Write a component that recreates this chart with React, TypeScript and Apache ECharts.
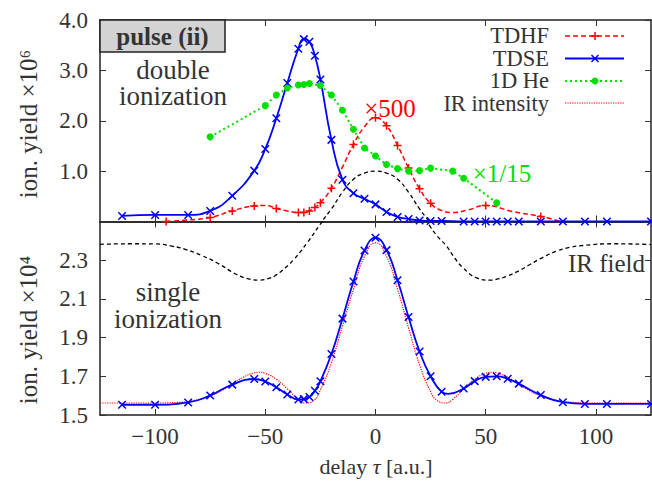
import React, { useEffect, useRef } from 'react';
import * as echarts from 'echarts';

// ---------- tick values ----------
const xTicks = [-100, -50, 0, 50, 100];
const yTicksTop = [0, 1, 2, 3, 4];
const yLabelsTop = [1, 2, 3, 4];
const yTicksBottom = [1.5, 1.7, 1.9, 2.1, 2.3, 2.5];
const yLabelsBottom = [1.5, 1.7, 1.9, 2.1, 2.3];

// ---------- double ionization (top panel, x10^6) ----------
const tdseX = [-115, -100, -85, -75, -65, -55, -50, -45, -40, -35, -32.5, -30, -27.5, -25, -20, -15, -10, -5, 0, 5, 10, 15, 20, 25, 30, 40, 45, 50, 55, 60, 65, 75, 85, 95, 105, 125];
const tdseDouble = [0.11, 0.13, 0.13, 0.21, 0.51, 1.01, 1.44, 2.05, 2.75, 3.43, 3.62, 3.57, 3.29, 2.82, 1.62, 0.83, 0.56, 0.45, 0.34, 0.19, 0.09, 0.05, 0.02, 0.01, 0.01, 0, 0, 0, 0, 0, 0, 0, 0, 0, 0, 0];

const tdhfX = [-95, -75, -65, -55, -45, -35, -32.5, -30, -27.5, -25, -20, -10, 0, 5, 10, 15, 20, 25, 50, 75];
const tdhfY = [0.0, 0.08, 0.21, 0.31, 0.26, 0.18, 0.18, 0.21, 0.28, 0.37, 0.66, 1.53, 2.06, 1.90, 1.51, 1.06, 0.65, 0.36, 0.32, 0.10];
// points read along the drawn TDHF curve between its markers
const tdhfCurve = [[-85, 0.03], [-50, 0.32], [-40, 0.21], [-15, 1.08], [-5, 1.88], [30, 0.22], [35, 0.18], [42, 0.23], [62, 0.2], [84, 0.0]];

const heX = [-75, -50, -45, -40, -35, -32.5, -30, -25, -20, -15, -10, -5, 0, 5, 10, 15, 20, 25, 35, 40, 55];
const heY = [1.68, 2.30, 2.51, 2.65, 2.71, 2.72, 2.74, 2.70, 2.51, 2.21, 1.83, 1.46, 1.30, 1.13, 1.05, 1.00, 1.01, 1.06, 1.00, 0.86, 0.37];

// IR field curve as seen in the top panel
const irTopX = [-31, -24.3, -20, -15, -10, -5, 0, 5, 10, 15, 20, 24.3, 31];
const irTopY = [-0.42, 0, 0.25, 0.58, 0.84, 0.96, 1.0, 0.96, 0.84, 0.58, 0.25, 0, -0.42];

// ---------- single ionization (bottom panel, x10^4) ----------
const tdseSingle = [1.553, 1.553, 1.565, 1.601, 1.657, 1.686, 1.673, 1.643, 1.606, 1.580, 1.582, 1.593, 1.625, 1.674, 1.815, 1.998, 2.190, 2.350, 2.416, 2.352, 2.196, 2.006, 1.828, 1.700, 1.620, 1.637, 1.675, 1.697, 1.700, 1.687, 1.662, 1.603, 1.566, 1.557, 1.557, 1.557];
const tdseSingleCurve = [[33, 1.609]];

const irIntX = [-125, -100, -90, -80, -75, -70, -65, -60, -55, -53, -50, -45, -40, -35, -32, -28, -25, -20, -15, -10, -5, 0, 5, 10, 15, 20, 25, 28, 32, 35, 40, 45, 50, 53, 55, 60, 65, 70, 75, 80, 90, 100, 125];
const irIntY = [1.562, 1.562, 1.565, 1.58, 1.598, 1.625, 1.66, 1.695, 1.718, 1.721, 1.715, 1.685, 1.635, 1.58, 1.562, 1.575, 1.63, 1.77, 1.96, 2.15, 2.32, 2.39, 2.32, 2.15, 1.95, 1.76, 1.62, 1.575, 1.562, 1.58, 1.635, 1.685, 1.715, 1.721, 1.718, 1.695, 1.66, 1.625, 1.598, 1.58, 1.565, 1.562, 1.562];

const irBotX = [-125, -110, -100, -92, -86, -79, -72, -63, -58, -53, -48, -45, -41, -37, -31, -25, -20, -15, 15, 20, 24.7, 28, 32.3, 36, 39.8, 45.9, 51.9, 55.5, 59.5, 65, 70.1, 76, 82.2, 88, 94.2, 107.8, 125];
const irBotY = [2.382, 2.385, 2.384, 2.372, 2.355, 2.325, 2.287, 2.226, 2.205, 2.197, 2.207, 2.224, 2.26, 2.304, 2.39, 2.487, 2.565, 2.65, 2.65, 2.565, 2.476, 2.425, 2.372, 2.31, 2.26, 2.209, 2.197, 2.203, 2.217, 2.245, 2.278, 2.315, 2.347, 2.366, 2.376, 2.385, 2.381];

const legendNames = ['TDHF', 'TDSE', '1D He', 'IR intensity'];

const RED = '#ff0000';
const BLUE = '#0000ff';
const GREEN = '#00e000';
const TXT = '#333333';
const SERIF = 'Liberation Serif';
const PLUS = 'path://M5,0L5,10M0,5L10,5';
const CROSS = 'path://M0,0L10,10M10,0L0,10';

function pairs(xs: number[], ys: number[]) {
  return xs.map((x, i) => [x, ys[i]]);
}
function withCurve(xs: number[], ys: number[], extra: number[][]) {
  const d: any[] = xs.map((x, i) => ({ value: [x, ys[i]] }));
  extra.forEach(([x, y]) => d.push({ value: [x, y], symbol: 'none' }));
  d.sort((a, b) => a.value[0] - b.value[0]);
  return d;
}
const fmtX = (v: number) => (v < 0 ? '\u2212' + Math.abs(v) : String(v));

export default function App() {
  const ref = useRef<HTMLDivElement>(null);
  useEffect(() => {
    document.body.style.margin = '0';
    if (!ref.current) return;
    const chart = echarts.init(ref.current, undefined, { renderer: 'svg' });
    const frame = { show: true, onZero: false, lineStyle: { color: '#222', width: 1.5 } };
    const tickStyle = { color: '#333', width: 1 };
    const labelStyle = { fontFamily: SERIF, fontSize: 23, color: TXT };
    const xAxisBase = (grid: number, pos: string, labels: boolean) => ({
      type: 'value', gridIndex: grid, position: pos, min: -125, max: 125,
      axisLine: frame,
      axisTick: { show: true, inside: true, length: 6, customValues: xTicks, lineStyle: tickStyle },
      axisLabel: labels ? { show: true, customValues: xTicks, formatter: fmtX, margin: 10, ...labelStyle } : { show: false },
      splitLine: { show: false },
    });
    const yAxisBase = (grid: number, pos: string, min: number, max: number, ticks: number[], labels: number[] | null) => ({
      type: 'value', gridIndex: grid, position: pos, min, max,
      axisLine: frame,
      axisTick: { show: true, inside: true, length: 6, customValues: ticks, lineStyle: tickStyle },
      axisLabel: labels ? { show: true, customValues: labels, formatter: (v: number) => v.toFixed(1), margin: 12, ...labelStyle } : { show: false },
      splitLine: { show: false },
    });

    const txt = (text: string, x: number, y: number, size: number, fill = TXT, align = 'center', extra: any = {}, weight = 'normal', lineHeight?: number) => ({
      type: 'text', x, y, z: 10, ...extra,
      style: { text, fontFamily: SERIF, fontSize: size, fontWeight: weight, fill, align, verticalAlign: 'middle', lineHeight },
    });

    const legendRows = [
      { y: 36, color: RED, dash: [5, 3], width: 1.5, mark: 'plus' },
      { y: 58.5, color: BLUE, dash: null, width: 1.8, mark: 'cross' },
      { y: 81, color: GREEN, dash: [2, 3], width: 2, mark: 'circle' },
      { y: 103, color: RED, dash: [1.2, 1.2], width: 1.2, mark: null },
    ];
    const graphics: any[] = [];
    graphics.push(txt(legendNames.join('\n'), 549, 69.5, 22.5, TXT, 'right', {}, 'normal', 22.4));
    legendRows.forEach((r) => {
      graphics.push({ type: 'line', z: 10, shape: { x1: 565, y1: r.y, x2: 624, y2: r.y }, style: { stroke: r.color, lineWidth: r.width, lineDash: r.dash || undefined } });
      const cx = 595, cy = r.y;
      if (r.mark === 'plus') {
        graphics.push({ type: 'line', z: 10, shape: { x1: cx - 4, y1: cy, x2: cx + 4, y2: cy }, style: { stroke: r.color, lineWidth: 1.5 } });
        graphics.push({ type: 'line', z: 10, shape: { x1: cx, y1: cy - 4, x2: cx, y2: cy + 4 }, style: { stroke: r.color, lineWidth: 1.5 } });
      } else if (r.mark === 'cross') {
        graphics.push({ type: 'line', z: 10, shape: { x1: cx - 3.5, y1: cy - 3.5, x2: cx + 3.5, y2: cy + 3.5 }, style: { stroke: r.color, lineWidth: 1.5 } });
        graphics.push({ type: 'line', z: 10, shape: { x1: cx - 3.5, y1: cy + 3.5, x2: cx + 3.5, y2: cy - 3.5 }, style: { stroke: r.color, lineWidth: 1.5 } });
      } else if (r.mark === 'circle') {
        graphics.push({ type: 'circle', z: 10, shape: { cx, cy, r: 3.5 }, style: { fill: r.color } });
      }
    });
    graphics.push({ type: 'rect', z: 10, shape: { x: 100, y: 20, width: 125, height: 32 }, style: { fill: '#d3d3d3', stroke: '#222', lineWidth: 1.5 } });
    graphics.push(txt('pulse (ii)', 162.5, 36.5, 25, TXT, 'center', { z: 11 }, 'bold'));
    graphics.push(txt('double\nionization', 173, 82.5, 27, TXT, 'center', {}, 'normal', 26));
    graphics.push(txt('single\nionization', 168, 305, 27, TXT, 'center', {}, 'normal', 27));
    graphics.push(txt('\u00d7500', 390, 108, 25, RED));
    graphics.push(txt('\u00d71/15', 502, 173, 25, GREEN));
    graphics.push(txt('IR field', 645, 263, 25, TXT, 'right'));
    graphics.push(txt('ion. yield \u00d710\u2076', 28, 124, 25, TXT, 'center', { rotation: Math.PI / 2 }));
    graphics.push(txt('ion. yield \u00d710\u2074', 28, 330, 25, TXT, 'center', { rotation: Math.PI / 2 }));
    graphics.push({
      type: 'text', x: 376, y: 466, z: 10,
      style: {
        text: '{a|delay }{b|\u03c4}{a| [a.u.]}', align: 'center', verticalAlign: 'middle', fontFamily: SERIF, fontSize: 22, fill: TXT,
        rich: { a: { fontFamily: SERIF, fontSize: 22, fill: TXT }, b: { fontFamily: SERIF, fontSize: 22, fontStyle: 'italic', fill: TXT } },
      },
    });

    chart.setOption({
      animation: false,
      backgroundColor: '#ffffff',
      textStyle: { fontFamily: SERIF },
      grid: [
        { left: 100, top: 20, width: 551, height: 201.5 },
        { left: 100, top: 221.5, width: 551, height: 193.5 },
      ],
      xAxis: [
        xAxisBase(0, 'bottom', false),
        xAxisBase(0, 'top', false),
        xAxisBase(1, 'bottom', true),
        xAxisBase(1, 'top', false),
      ],
      yAxis: [
        yAxisBase(0, 'left', 0, 4, yTicksTop, yLabelsTop),
        yAxisBase(0, 'right', 0, 4, yTicksTop, null),
        yAxisBase(1, 'left', 1.5, 2.5, yTicksBottom, yLabelsBottom),
        yAxisBase(1, 'right', 1.5, 2.5, yTicksBottom, null),
      ],
      series: [
        {
          name: 'IR field top', type: 'line', xAxisIndex: 0, yAxisIndex: 0, data: pairs(irTopX, irTopY),
          smooth: true, symbol: 'none', clip: true, lineStyle: { color: '#000', width: 1.3, type: [4, 3] }, z: 2,
        },
        {
          name: 'IR field', type: 'line', xAxisIndex: 2, yAxisIndex: 2, data: pairs(irBotX, irBotY),
          smooth: true, symbol: 'none', clip: true, lineStyle: { color: '#000', width: 1.3, type: [4, 3] }, z: 2,
        },
        {
          name: 'IR intensity', type: 'line', xAxisIndex: 2, yAxisIndex: 2, data: pairs(irIntX, irIntY),
          smooth: true, symbol: 'none', clip: true, lineStyle: { color: RED, width: 1.2, type: [1.2, 1.2] }, z: 3,
        },
        {
          name: 'TDHF', type: 'line', xAxisIndex: 0, yAxisIndex: 0, data: withCurve(tdhfX, tdhfY, tdhfCurve),
          smooth: true, symbol: PLUS, symbolSize: 8, clip: true,
          lineStyle: { color: RED, width: 1.5, type: [5, 3] },
          itemStyle: { color: RED, borderColor: RED, borderWidth: 1.5 }, z: 4,
        },
        {
          name: 'TDSE', type: 'line', xAxisIndex: 0, yAxisIndex: 0, data: pairs(tdseX, tdseDouble),
          smooth: true, symbol: CROSS, symbolSize: 7.5, clip: true,
          lineStyle: { color: BLUE, width: 1.8 },
          itemStyle: { color: BLUE, borderColor: BLUE, borderWidth: 1.5 }, z: 5,
        },
        {
          name: 'TDSE single', type: 'line', xAxisIndex: 2, yAxisIndex: 2, data: withCurve(tdseX, tdseSingle, tdseSingleCurve),
          smooth: true, symbol: CROSS, symbolSize: 7.5, clip: true,
          lineStyle: { color: BLUE, width: 1.8 },
          itemStyle: { color: BLUE, borderColor: BLUE, borderWidth: 1.5 }, z: 5,
        },
        {
          name: '1D He', type: 'line', xAxisIndex: 0, yAxisIndex: 0, data: pairs(heX, heY),
          smooth: false, symbol: 'circle', symbolSize: 7, clip: true,
          lineStyle: { color: GREEN, width: 2, type: [2, 3] },
          itemStyle: { color: GREEN }, z: 6,
        },
      ],
      graphic: graphics,
    });
    return () => chart.dispose();
  }, []);
  return <div ref={ref} style={{ width: 652, height: 482 }} />;
}
